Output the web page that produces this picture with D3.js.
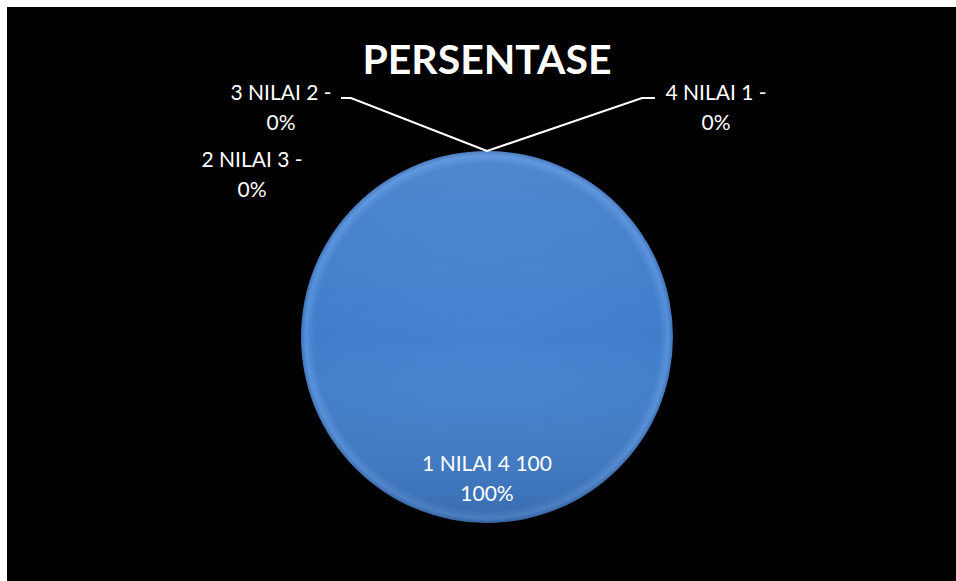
<!DOCTYPE html>
<meta charset="utf-8">
<title>Persentase</title>
<style>
  body { margin: 0; background: #fff; }
  svg { display: block; }
  text { font-family: Lato, "Open Sans", sans-serif; fill: #fff; }
</style>
<body>
<script src="https://cdn.jsdelivr.net/npm/d3@7/dist/d3.min.js"></script>
<script>
//==================================================================
var width = 956,
    height = 581;

var categories = ['1 NILAI 4 100', '2 NILAI 3 -', '3 NILAI 2 -', '4 NILAI 1 -'];
var values = [100, 0, 0, 0];
var title = 'PERSENTASE';

// where excel pushed the little labels (dx, dy from the top of the pie)
var labelOffset = [null, [-235, 16], [-206, -51], [229, -51]];
var leaderKnee = [null, null, [-136, -53], [155, -53]];
var leaderEnd = [null, null, [-146, -53], [168, -53]];

var cx = 487, cy = 337, r = 186;

var svg = d3.select('body').append('svg')
    .attr('width', width)
    .attr('height', height);

svg.append('rect')
    .attr('x', 7).attr('y', 7)
    .attr('width', width - 7).attr('height', height - 7)
    .style('fill', '#000');

var defs = svg.append('defs');
var grad = defs.append('radialGradient')
    .attr('id', 'pieFill')
    .attr('cx', '50%').attr('cy', '50%').attr('r', '50%');
grad.append('stop').attr('offset', '0%').attr('stop-color', '#4482d0');
grad.append('stop').attr('offset', '93%').attr('stop-color', '#407dcb');
grad.append('stop').attr('offset', '97.5%').attr('stop-color', '#5590dc');
grad.append('stop').attr('offset', '100%').attr('stop-color', '#3c72b8');

var shade = defs.append('linearGradient')
    .attr('id', 'pieShade')
    .attr('x1', 0).attr('y1', 0).attr('x2', 0).attr('y2', 1);
shade.append('stop').attr('offset', '0%').attr('stop-color', '#fff').attr('stop-opacity', 0.08);
shade.append('stop').attr('offset', '50%').attr('stop-color', '#fff').attr('stop-opacity', 0);
shade.append('stop').attr('offset', '100%').attr('stop-color', '#000').attr('stop-opacity', 0.14);

var pie = d3.pie().sort(null).value(function(d) { return d; });
var arcs = pie(values);

var arc = d3.arc().innerRadius(0).outerRadius(r);
var labelArc = d3.arc().innerRadius(r * 0.76).outerRadius(r * 0.76);

var g = svg.append('g').attr('transform', 'translate(' + cx + ',' + cy + ')');

g.selectAll('path.slice')
    .data(arcs.filter(function(d) { return d.value > 0; }))
    .enter().append('path')
    .attr('class', 'slice')
    .attr('d', arc)
    .style('fill', 'url(#pieFill)');

g.selectAll('path.shade')
    .data(arcs.filter(function(d) { return d.value > 0; }))
    .enter().append('path')
    .attr('class', 'shade')
    .attr('d', arc)
    .style('fill', 'url(#pieShade)');

var total = d3.sum(values);
var pct = d3.format('.0%');

// title
svg.append('text')
    .attr('x', cx).attr('y', 74)
    .attr('text-anchor', 'middle')
    .style('font-size', '41px')
    .style('font-weight', 'bold')
    .text(title);

arcs.forEach(function(d, i) {
  var txt = categories[i];
  var p = pct(d.value / total);
  var pos;
  if (d.value > 0) {
    pos = labelArc.centroid(d);
    pos[1] -= 7;
  } else {
    // zero slices sit on the edge at the top of the pie
    var a = d.startAngle;
    var edge = [Math.sin(a) * r, -Math.cos(a) * r];
    pos = [edge[0] + labelOffset[i][0], edge[1] + labelOffset[i][1]];
    if (leaderKnee[i]) {
      var pts = [edge,
                 [edge[0] + leaderKnee[i][0], edge[1] + leaderKnee[i][1]],
                 [edge[0] + leaderEnd[i][0], edge[1] + leaderEnd[i][1]]];
      g.append('path')
          .attr('d', d3.line()(pts))
          .style('fill', 'none')
          .style('stroke', '#fff')
          .style('stroke-width', 2);
    }
  }
  var t = g.append('text')
      .attr('text-anchor', 'middle')
      .attr('transform', 'translate(' + pos[0] + ',' + pos[1] + ')')
      .style('font-size', '21px');
  t.append('tspan').attr('x', 0).attr('y', 0).text(txt);
  t.append('tspan').attr('x', 0).attr('y', 30).text(p);
});
</script>
